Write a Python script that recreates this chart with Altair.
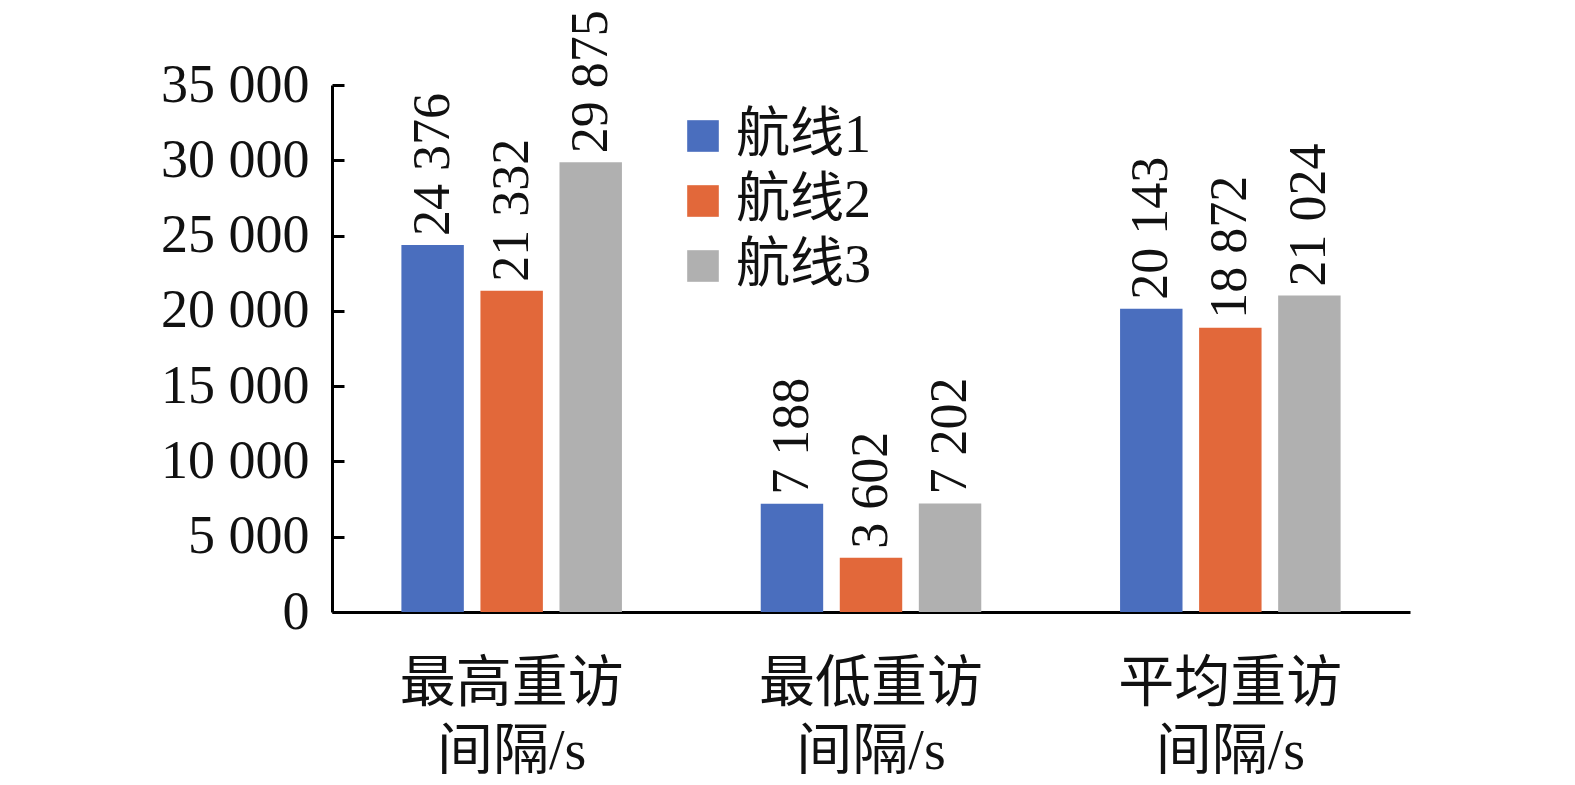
import altair as alt
import pandas as pd

categories = ["最高重访\n间隔/s", "最低重访\n间隔/s", "平均重访\n间隔/s"]
series = ["航线1", "航线2", "航线3"]
route1 = [24376, 7188, 20143]
route2 = [21332, 3602, 18872]
route3 = [29875, 7202, 21024]
colors = ["#4A6EBE", "#E2683A", "#B0B0B0"]
y_ticks = [0, 5000, 10000, 15000, 20000, 25000, 30000, 35000]

rows = []
for s, vals in zip(series, [route1, route2, route3]):
    for c, v in zip(categories, vals):
        rows.append({"cat": c, "series": s, "value": v})
df = pd.DataFrame(rows)

FONT = "Liberation Serif, Noto Sans CJK SC"
FS = 54
W, H = 1078, 527

x_enc = alt.X("cat:N", sort=categories, title=None,
              scale=alt.Scale(paddingInner=0, paddingOuter=0),
              axis=alt.Axis(labelAngle=0, ticks=False, domainColor="black", domainWidth=3,
                            labelFont=FONT, labelFontSize=56, labelColor="#111",
                            labelPadding=44, labelLineHeight=68, labelLimit=0,
                            grid=False,
                            labelExpr="split(datum.label, '\\n')"))
xo_enc = alt.XOffset("series:N", sort=series,
                     scale=alt.Scale(paddingInner=0.21, paddingOuter=0.878))
y_scale = alt.Scale(domain=[0, 35000], nice=False)

# inward y ticks are drawn as the first 12 px of dashed grid lines
bars = alt.Chart(df).mark_bar().encode(
    x=x_enc,
    xOffset=xo_enc,
    y=alt.Y("value:Q", scale=y_scale, title=None,
            axis=alt.Axis(values=y_ticks, format=",d",
                          labelExpr="replace(datum.label, ',', ' ')",
                          ticks=False, grid=True, gridColor="black", gridWidth=3,
                          gridOpacity=1, gridDash=[12, 3000],
                          domainColor="black", domainWidth=3,
                          labelFont=FONT, labelFontSize=FS, labelColor="#111",
                          labelPadding=23)),
    color=alt.Color("series:N", sort=series, title=None,
                    scale=alt.Scale(domain=series, range=colors),
                    legend=alt.Legend(orient="none", legendX=344, legendY=24,
                                      symbolType="square", symbolSize=1000,
                                      symbolStrokeWidth=0, labelFont=FONT,
                                      labelFontSize=FS, labelColor="#111",
                                      labelOffset=6, rowPadding=11, padding=0)),
)

labels = alt.Chart(df).transform_calculate(
    lab="replace(format(datum.value, ','), ',', ' ')"
).mark_text(angle=270, align="left", baseline="middle", dx=9,
            font=FONT, fontSize=52, color="#111").encode(
    x=alt.X("cat:N", sort=categories),
    xOffset=alt.XOffset("series:N", sort=series),
    y=alt.Y("value:Q", scale=y_scale),
    text="lab:N",
)

chart = alt.layer(bars, labels).properties(
    width=W, height=H,
    padding={"left": 324, "top": 77, "right": 150, "bottom": 172},
    autosize="none", background="white",
).configure_view(stroke=None)

chart.save("out.html", embed_options={"renderer": "svg", "actions": False})
